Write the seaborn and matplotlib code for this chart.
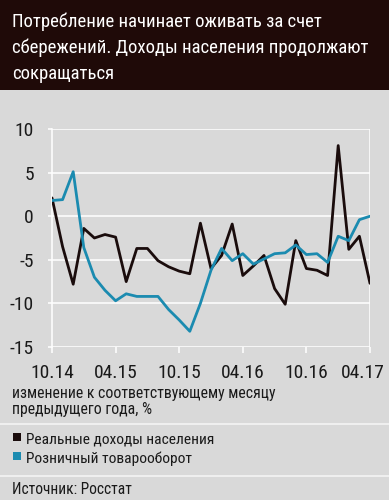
import numpy as np
import pandas as pd
import matplotlib
matplotlib.use("Agg")
import matplotlib.pyplot as plt
from matplotlib.lines import Line2D
from matplotlib.patches import Rectangle
from matplotlib.transforms import ScaledTranslation
import seaborn as sns

# данные: изменение к соответствующему месяцу предыдущего года, %
meses = list(range(31))  # 10.14 ... 04.17
renda_real = [2.1, -3.5, -7.8, -1.4, -2.5, -2.1, -2.4, -7.5, -3.7, -3.7,
              -5.1, -5.8, -6.3, -6.6, -0.8, -6.0, -4.5, -0.9, -6.8, -5.7,
              -4.5, -8.3, -10.1, -2.8, -6.0, -6.2, -6.8, 8.1, -3.8, -2.3, -7.7]
varejo = [1.8, 1.9, 5.1, -3.6, -7.0, -8.5, -9.7, -8.9, -9.2, -9.2,
          -9.2, -10.7, -11.9, -13.2, -10.0, -6.2, -3.7, -5.1, -4.3, -5.5,
          -4.9, -4.3, -4.2, -3.3, -4.4, -4.3, -5.3, -2.3, -2.8, -0.4, 0.0]
tick_pos = [0, 6, 12, 18, 24, 30]
tick_labels = ["10.14", "04.15", "10.15", "04.16", "10.16", "04.17"]
series_names = ["Реальные доходы населения", "Розничный товарооборот"]
titulo = ["Потребление начинает оживать за счет",
          "сбережений. Доходы населения продолжают",
          "сокращаться"]
nota = ["изменение к соответствующему месяцу", "предыдущего года, %"]

BG = "#d9d9d9"
TOP = "#1f0a08"
TXT = "#1a1a1a"
COR = {series_names[0]: "#1a0c0c", series_names[1]: "#1b8bb0"}
FONTE = ["Roboto Condensed", "PT Sans Narrow", "Liberation Sans", "DejaVu Sans"]

df = pd.DataFrame({
    "mes": meses * 2,
    "valor": renda_real + varejo,
    "serie": [series_names[0]] * len(meses) + [series_names[1]] * len(meses),
})

sns.set_theme(style="white")
plt.rcParams["font.family"] = FONTE

fig = plt.figure(figsize=(3.89, 5.0), dpi=100, facecolor=BG)
ax = fig.add_axes([52 / 389, 1 - 347 / 500, (370 - 52) / 389, (347 - 129) / 500])
ax.set_facecolor(BG)


def px(x, y):
    return x / 389, 1 - y / 500


def ajustar(textos, largura):
    # escala a fonte para que o texto mais largo tenha a largura pedida (px)
    r = fig.canvas.get_renderer()
    w = max(t.get_window_extent(r).width for t in textos)
    for t in textos:
        t.set_fontsize(t.get_fontsize() * largura / w)


# faixa escura do título
fig.add_artist(Rectangle((0, 1 - 90 / 500), 1, 90 / 500, transform=fig.transFigure,
                         facecolor=TOP, edgecolor="none", zorder=0))
t_tit = [fig.text(*px(12, y), linha, color="white", fontsize=15, va="baseline", ha="left")
         for linha, y in zip(titulo, [27, 53, 79])]
ajustar(t_tit, 358)

# grade branca
for v in [-15, -10, -5, 0, 5, 10]:
    ax.axhline(v, color="white", lw=1.1, zorder=1)
ax.axvline(30, color="white", lw=1.1, zorder=1)

sns.lineplot(data=df, x="mes", y="valor", hue="serie", hue_order=series_names,
             palette=COR, lw=2.0, legend=False, ax=ax, zorder=3)

ax.set_xlim(0, 30)
ax.set_ylim(-15, 10)
ax.set_xticks(tick_pos)
ax.set_xticklabels(tick_labels)
ax.set_yticks([-15, -10, -5, 0, 5, 10])
ax.set_yticklabels(["-15", "-10", "-5", "0", "5", "10"])
ax.set_xlabel("")
ax.set_ylabel("")
for s in ["top", "right", "bottom"]:
    ax.spines[s].set_visible(False)
ax.spines["left"].set_color("white")
ax.spines["left"].set_linewidth(1.1)
ax.tick_params(axis="x", length=4, width=1.1, color="white", pad=8,
               labelsize=14, labelcolor=TXT, bottom=True)
ax.tick_params(axis="y", length=3, width=1.1, color="white", pad=10,
               labelsize=14, labelcolor=TXT, left=True)
ultimo = ax.get_xticklabels()[-1]
ultimo.set_transform(ultimo.get_transform() + ScaledTranslation(-0.07, 0, fig.dpi_scale_trans))

# nota e legenda
t_nota = [fig.text(*px(12, y), linha, fontsize=13, color=TXT, va="baseline", ha="left")
          for linha, y in zip(nota, [398, 414])]
ajustar(t_nota, 262)

for y in [424, 476]:
    fig.add_artist(Line2D([0, 1], [1 - y / 500] * 2, transform=fig.transFigure,
                          color="#f2f2f2", lw=1.3))
t_leg = []
for nome, yb in zip(series_names, [444, 463]):
    fig.add_artist(Rectangle(px(13, yb - 3), 8 / 389, 8 / 500,
                             transform=fig.transFigure, facecolor=COR[nome],
                             edgecolor="none"))
    t_leg.append(fig.text(*px(26, yb), nome, fontsize=13, color=TXT,
                          va="baseline", ha="left"))
ajustar(t_leg, 188)

t_fonte = fig.text(*px(12, 494), "Источник: Росстат", fontsize=13, color=TXT,
                   va="baseline", ha="left")
ajustar([t_fonte], 120)

plt.savefig("out.png", dpi=100, facecolor=BG)
plt.close()
